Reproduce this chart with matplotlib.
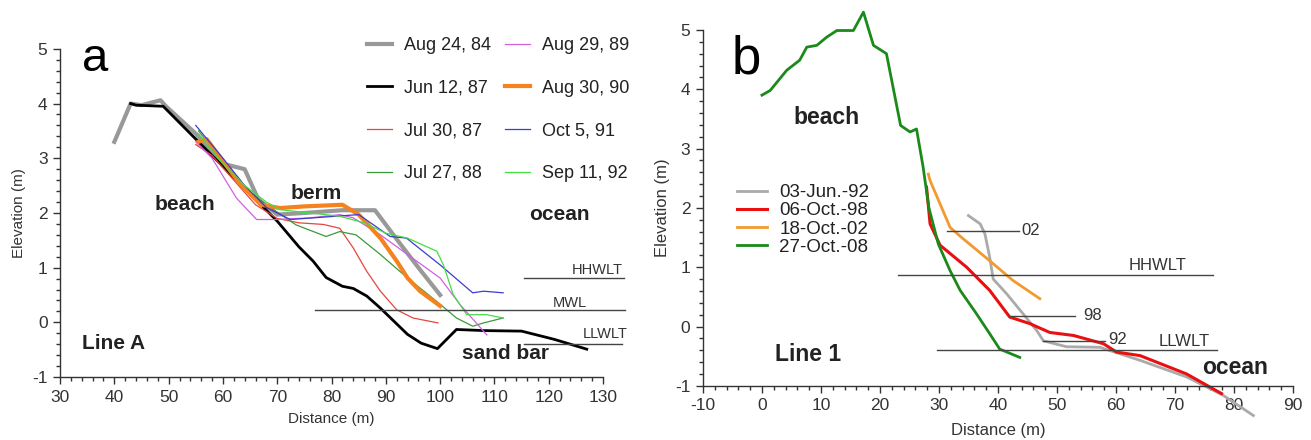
import matplotlib
matplotlib.use("Agg")
import matplotlib.pyplot as plt
from matplotlib.ticker import MultipleLocator

plt.rcParams['font.family'] = ['Liberation Sans', 'DejaVu Sans']
plt.rcParams['axes.unicode_minus'] = False

# ---------------- panel a : Line A profiles ----------------
a_labels = ['Aug 24, 84', 'Jun 12, 87', 'Jul 30, 87', 'Jul 27, 88',
            'Aug 29, 89', 'Aug 30, 90', 'Oct 5, 91', 'Sep 11, 92']

a_x_aug84 = [40, 43, 45, 48.5, 49.5, 55, 60, 62, 64, 66.5, 70, 75, 82, 88, 92, 96, 100]
a_y_aug84 = [3.3, 4.0, 3.97, 4.06, 3.95, 3.45, 2.9, 2.85, 2.8, 2.25, 1.97, 2.0, 2.05, 2.05, 1.52, 1.0, 0.5]

a_x_jun87 = [43, 44, 49, 55, 62, 70, 74, 76.6, 79, 82, 84, 86.5, 89, 91.5, 94, 96.5, 99.5, 103, 108, 115, 121, 127]
a_y_jun87 = [4.0, 3.97, 3.95, 3.35, 2.65, 1.85, 1.38, 1.12, 0.82, 0.66, 0.62, 0.48, 0.26, 0.02, -0.22, -0.38, -0.48, -0.13, -0.15, -0.16, -0.31, -0.49]

a_x_jul87 = [55, 58, 62, 66, 70, 74, 78.5, 81.5, 84, 86.5, 89, 92, 95, 99.6]
a_y_jul87 = [3.25, 3.05, 2.6, 2.15, 1.9, 1.82, 1.79, 1.72, 1.36, 0.93, 0.57, 0.23, 0.08, -0.01]

a_x_jul88 = [55.5, 60, 64, 68, 73.5, 79, 81.5, 84.5, 89, 94, 99.4, 103, 106, 108, 111.6]
a_y_jul88 = [3.5, 2.95, 2.45, 2.15, 1.78, 1.57, 1.66, 1.6, 1.24, 0.81, 0.38, 0.08, -0.07, -0.01, 0.08]

a_x_aug89 = [55, 58, 62.5, 66.2, 69.5, 76, 81.5, 84, 89, 94, 100, 103.7, 108.6]
a_y_aug89 = [3.3, 3.0, 2.27, 1.88, 1.88, 1.91, 1.97, 1.91, 1.6, 1.24, 0.81, 0.32, -0.23]

a_x_aug90 = [55.5, 57, 60, 63, 67, 70.5, 75, 82, 85, 89, 92, 94, 96.3, 100]
a_y_aug90 = [3.3, 3.35, 2.95, 2.55, 2.15, 2.09, 2.12, 2.15, 1.97, 1.54, 1.12, 0.81, 0.57, 0.3]

a_x_oct91 = [55, 60, 64, 68, 72.4, 78, 85, 90.8, 93.8, 100, 106, 108, 111.6]
a_y_oct91 = [3.6, 3.0, 2.5, 2.1, 1.88, 1.92, 1.97, 1.57, 1.54, 1.05, 0.54, 0.57, 0.54]

a_x_sep92 = [55.5, 60, 64, 68, 70.5, 76, 81.5, 86, 90, 94, 99.4, 100.6, 102.4, 104.9, 108.6, 111.6]
a_y_sep92 = [3.45, 2.9, 2.5, 2.2, 2.06, 2.0, 1.94, 1.82, 1.63, 1.54, 1.3, 1.05, 0.51, 0.14, 0.14, 0.08]

# tide levels for panel a: name, x start, x end, elevation
a_levels = [('HHWLT', 115.5, 133.8, 0.82),
            ('MWL', 77, 134, 0.23),
            ('LLWLT', 115.5, 133.4, -0.40)]

# ---------------- panel b : Line 1 profiles ----------------
b_labels = ['03-Jun.-92', '06-Oct.-98', '18-Oct.-02', '27-Oct.-08']

b_x_92 = [35, 37, 37.8, 38.6, 39.2, 41.5, 44.3, 46.6, 47.7, 51.6, 57.3, 64.1, 72, 78.2, 83.3]
b_y_92 = [1.87, 1.73, 1.56, 1.17, 0.8, 0.55, 0.21, -0.07, -0.24, -0.34, -0.35, -0.57, -0.85, -1.16, -1.5]

b_x_98 = [27.9, 28.5, 30.2, 31.3, 34.7, 38.6, 42, 45.4, 48.8, 52.8, 57.9, 60.1, 64.1, 72, 77.9]
b_y_98 = [2.35, 1.73, 1.37, 1.28, 1.0, 0.61, 0.16, 0.05, -0.1, -0.15, -0.29, -0.43, -0.49, -0.8, -1.13]

b_x_02 = [28.2, 28.5, 31.9, 34.1, 38.6, 42.5, 47.1]
b_y_02 = [2.57, 2.46, 1.67, 1.48, 1.11, 0.78, 0.47]

b_x_08 = [0, 1.4, 4.2, 6.4, 7.6, 9.3, 11, 12.7, 15.5, 17.2, 18.9, 21.1, 23.5, 25.1, 26.2, 27.3, 28.3, 29.9, 31.9, 33.6, 36.4, 38.6, 40.3, 43.7]
b_y_08 = [3.9, 3.98, 4.32, 4.49, 4.71, 4.74, 4.88, 4.99, 4.99, 5.3, 4.74, 4.6, 3.39, 3.28, 3.33, 2.7, 2.0, 1.39, 0.94, 0.61, 0.21, -0.12, -0.38, -0.52]

b_levels = [('02', 31.3, 43.5, 1.61),
            ('HHWLT', 23.1, 76.5, 0.87),
            ('98', 42.0, 53.1, 0.17),
            ('92', 47.7, 58.1, -0.24),
            ('LLWLT', 29.7, 77.1, -0.40)]

fig = plt.figure(figsize=(13.11, 4.4), dpi=100)
axa = fig.add_axes([0.0458, 0.143, 0.4142, 0.746])
axb = fig.add_axes([0.5362, 0.123, 0.4500, 0.809])

tick_col = '#333333'

def style(ax, xlim, xmaj):
    ax.set_xlim(*xlim)
    ax.set_ylim(-1, 5)
    for s in ['top', 'right']:
        ax.spines[s].set_visible(False)
    for s in ['left', 'bottom']:
        ax.spines[s].set_color(tick_col)
        ax.spines[s].set_linewidth(1.0)
    ax.xaxis.set_major_locator(MultipleLocator(xmaj))
    ax.xaxis.set_minor_locator(MultipleLocator(2))
    ax.yaxis.set_major_locator(MultipleLocator(1))
    ax.yaxis.set_minor_locator(MultipleLocator(0.2))
    ax.tick_params(which='major', direction='out', length=5, width=1,
                   colors=tick_col, labelsize=12.5, pad=4)
    ax.tick_params(which='minor', direction='out', length=3, width=1, colors=tick_col)

# ---- panel a
style(axa, (30, 130), 10)
axa.plot(a_x_aug84, a_y_aug84, color='#999999', lw=3.0, label=a_labels[0])
axa.plot(a_x_jun87, a_y_jun87, color='black', lw=2.0, label=a_labels[1])
axa.plot(a_x_jul87, a_y_jul87, color='#e8453c', lw=0.9, label=a_labels[2])
axa.plot(a_x_jul88, a_y_jul88, color='#3a9a3a', lw=0.9, label=a_labels[3])
axa.plot(a_x_aug89, a_y_aug89, color='#d060e0', lw=0.9, label=a_labels[4])
axa.plot(a_x_aug90, a_y_aug90, color='#f5821f', lw=3.0, label=a_labels[5])
axa.plot(a_x_oct91, a_y_oct91, color='#3c3cd0', lw=0.9, label=a_labels[6])
axa.plot(a_x_sep92, a_y_sep92, color='#44dd44', lw=0.9, label=a_labels[7])

for name, x0, x1, y in a_levels:
    axa.plot([x0, x1], [y, y], color='#444444', lw=1.0, clip_on=False)
axa.text(133.7, 0.95, 'HHWLT', ha='right', va='center', fontsize=10.5, color='#333333')
axa.text(123.9, 0.35, 'MWL', ha='center', va='center', fontsize=10.5, color='#333333')
axa.text(134.6, -0.22, 'LLWLT', ha='right', va='center', fontsize=10.5, color='#333333')

axa.text(34, 4.6, 'a', fontsize=34, ha='left', va='baseline')
axa.text(53, 2.16, 'beach', fontsize=15, fontweight='bold', ha='center', va='center', color='#222222')
axa.text(72.4, 2.36, 'berm', fontsize=15, fontweight='bold', ha='left', va='center', color='#222222')
axa.text(122, 1.97, 'ocean', fontsize=15, fontweight='bold', ha='center', va='center', color='#222222')
axa.text(112.1, -0.56, 'sand bar', fontsize=15, fontweight='bold', ha='center', va='center', color='#222222')
axa.text(34, -0.38, 'Line A', fontsize=15, fontweight='bold', ha='left', va='center', color='#222222')

axa.set_xlabel('Distance (m)', fontsize=11, color='#333333')
axa.set_ylabel('Elevation (m)', fontsize=11, color='#333333')
axa.xaxis.set_label_coords(0.5, -0.107)
axa.yaxis.set_label_coords(-0.062, 0.5)

axa.legend(ncol=2, loc='upper left', bbox_to_anchor=(366.7 / 1311, 1 - 37 / 440),
           bbox_transform=fig.transFigure, frameon=False, fontsize=13,
           handlelength=1.4, handletextpad=0.65, columnspacing=0.8,
           labelspacing=1.42, borderpad=0, borderaxespad=0, labelcolor='#222222')

# ---- panel b
style(axb, (-10, 90), 10)
axb.plot(b_x_92, b_y_92, color='#aaaaaa', lw=2.0, label=b_labels[0], clip_on=False)
axb.plot(b_x_98, b_y_98, color='#e81010', lw=2.2, label=b_labels[1], clip_on=False)
axb.plot(b_x_02, b_y_02, color='#f39a2e', lw=2.0, label=b_labels[2])
axb.plot(b_x_08, b_y_08, color='#1a8a1a', lw=2.0, label=b_labels[3], clip_on=False)

for name, x0, x1, y in b_levels:
    axb.plot([x0, x1], [y, y], color='#444444', lw=1.0)
axb.text(43.9, 1.62, '02', ha='left', va='center', fontsize=12, color='#333333')
axb.text(54.5, 0.185, '98', ha='left', va='center', fontsize=12, color='#333333')
axb.text(58.7, -0.21, '92', ha='left', va='center', fontsize=12, color='#333333')
axb.text(72, 1.03, 'HHWLT', ha='right', va='center', fontsize=12, color='#333333')
axb.text(75.9, -0.26, 'LLWLT', ha='right', va='center', fontsize=12, color='#333333')

axb.text(-5.1, 4.27, 'b', fontsize=38, ha='left', va='baseline')
axb.text(11, 3.53, 'beach', fontsize=16.5, fontweight='bold', ha='center', va='center', color='#222222')
axb.text(2.2, -0.47, 'Line 1', fontsize=16.5, fontweight='bold', ha='left', va='center', color='#222222')
axb.text(80.2, -0.69, 'ocean', fontsize=16.5, fontweight='bold', ha='center', va='center', color='#222222')

axb.set_xlabel('Distance (m)', fontsize=12, color='#333333')
axb.set_ylabel('Elevation (m)', fontsize=12, color='#333333')
axb.xaxis.set_label_coords(0.5, -0.105)
axb.yaxis.set_label_coords(-0.056, 0.5)

axb.legend(loc='upper left', bbox_to_anchor=(736.7 / 1311, 1 - 184 / 440),
           bbox_transform=fig.transFigure, frameon=False, fontsize=13.5,
           handlelength=1.6, handletextpad=0.67, labelspacing=0.06,
           borderpad=0, borderaxespad=0, labelcolor='#222222')

fig.savefig('out.png', dpi=100)
